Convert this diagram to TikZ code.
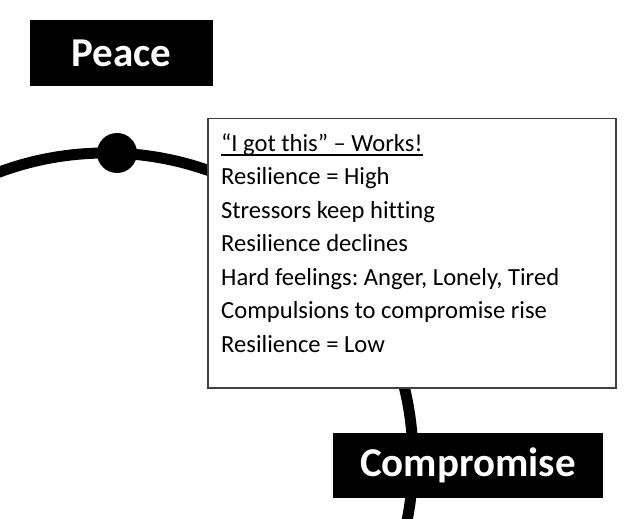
\documentclass[tikz,border=0pt]{standalone}
\usepackage{fontspec}
\setmainfont{Carlito}[Ligatures=CommonOff]
\usetikzlibrary{positioning}
\newcommand{\ulline}[1]{\setbox0=\hbox{#1}\rlap{\rule[-4.2pt]{\wd0}{1.5pt}}\box0}
\tikzset{
  titlebox/.style={fill=black,text=white,inner sep=0pt,font=\fontsize{41}{48}\selectfont\bfseries},
  notebox/.style={draw=black!75,line width=1.5pt,fill=white,inner sep=0pt},
  ring/.style={line width=11pt},
}
\begin{document}
\frenchspacing
\begin{tikzpicture}[x=1pt,y=-1pt]
  \useasboundingbox (0,0) rectangle (625,519);
  % the cycle
  \coordinate (hub) at (106,460);
  \begin{scope}
    \clip (0,0) rectangle (625,519);
    \draw[ring] (hub) circle[radius=307];
  \end{scope}
  \node[fill=black,circle,minimum size=40pt,inner sep=0pt] (dot) at (117,153) {};
  % notes
  \node[notebox,minimum width=408pt,minimum height=269pt,anchor=north west] (notes) at (207,118) {};
  \node[anchor=north west,align=left,inner sep=0pt,font=\fontsize{24.6}{33.5}\selectfont]
    (notetext) at ([shift={(14,15.5)}]notes.north west)
    {\ulline{“I got this” – Works!}\\
     Resilience = High\\
     Stressors keep hitting\\
     Resilience declines\\
     Hard feelings: Anger, Lonely, Tired\\
     Compulsions to compromise rise\\
     Resilience = Low};
  % states
  \node[titlebox,minimum width=183pt,minimum height=66pt] (peace) at (121.5,53) {Peace};
  \node[titlebox,minimum width=270pt,minimum height=65pt] (compromise) at (468,465.5) {Compromise};
\end{tikzpicture}
\end{document}
